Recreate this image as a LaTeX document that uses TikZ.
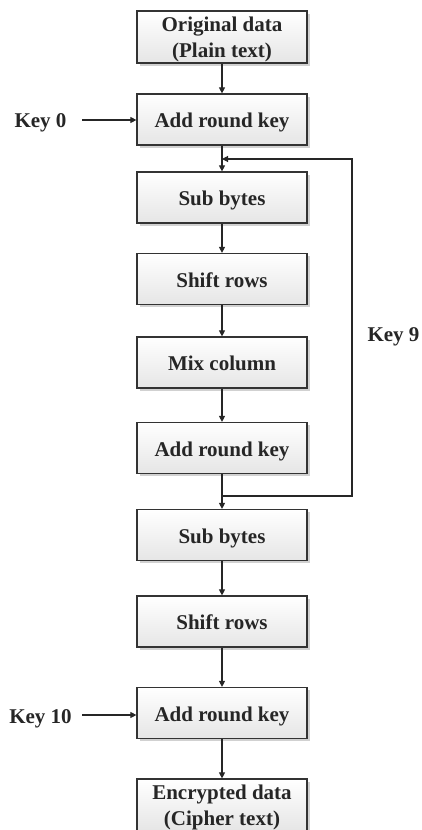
\documentclass[tikz,border=0pt]{standalone}
\usepackage{fontspec}
\setmainfont{Liberation Serif}
\usetikzlibrary{arrows.meta,shadows}
\newcommand{\twolines}[2]{\begin{tabular}[t]{@{}c@{}}#1\\#2\end{tabular}}
\begin{document}
\begin{tikzpicture}[x=1pt,y=1pt,
  stepbox/.style={draw=black!80, line width=1.2pt, minimum width=170pt, minimum height=51pt,
    inner sep=0pt, top color=white, bottom color=black!10,
    drop shadow={opacity=0.18, shadow xshift=2.5pt, shadow yshift=-2.5pt, fill=black},
    font=\fontsize{21}{26}\selectfont\bfseries, text=black!85,
    text height=20.5pt, text depth=4.5pt},
  twoline/.style={text height=20.5pt, text depth=31.5pt},
  keylabel/.style={font=\fontsize{21}{26}\selectfont\bfseries, text=black!85, inner sep=0pt},
  conn/.style={draw=black!85, line width=1.1pt, -{Triangle[length=6pt,width=6pt]}},
  plain/.style={draw=black!85, line width=1.1pt}]
\useasboundingbox (0,0) rectangle (422,-830);
\node[stepbox,twoline] (orig) at (222,-37) {\twolines{Original data}{(Plain text)}};
\node[stepbox] (ark1) at (222,-119.5) {Add round key};
\node[stepbox] (sb1) at (222,-197.5) {Sub bytes};
\node[stepbox] (sr1) at (222,-279) {Shift rows};
\node[stepbox] (mc) at (222,-362.5) {Mix column};
\node[stepbox] (ark2) at (222,-448) {Add round key};
\node[stepbox] (sb2) at (222,-535) {Sub bytes};
\node[stepbox] (sr2) at (222,-621.5) {Shift rows};
\node[stepbox] (ark3) at (222,-713) {Add round key};
\node[stepbox,twoline] (enc) at (222,-805) {\twolines{Encrypted data}{(Cipher text)}};
\node[keylabel] (k0) at (40.5,-123) {Key 0};
\node[keylabel] (k10) at (40.5,-718.5) {Key 10};
\node[keylabel] (k9) at (393.5,-337) {Key 9};
\coordinate (k0e) at (82,-120);
\coordinate (k10e) at (82,-715);
\coordinate (jb) at (222,-496);
\coordinate (lb) at (352,-496);
\coordinate (jt) at (222,-159);
\draw[conn] (orig) -- (ark1);
\draw[conn] (ark1) -- (sb1);
\draw[conn] (sb1) -- (sr1);
\draw[conn] (sr1) -- (mc);
\draw[conn] (mc) -- (ark2);
\draw[conn] (ark2) -- (sb2);
\draw[conn] (sb2) -- (sr2);
\draw[conn] (sr2) -- (ark3);
\draw[conn] (ark3) -- (enc);
\draw[conn] (k0e) -- (ark1.west |- k0e);
\draw[conn] (k10e) -- (ark3.west |- k10e);
\draw[conn] (jb) -- (lb) |- (jt);
\end{tikzpicture}
\end{document}
